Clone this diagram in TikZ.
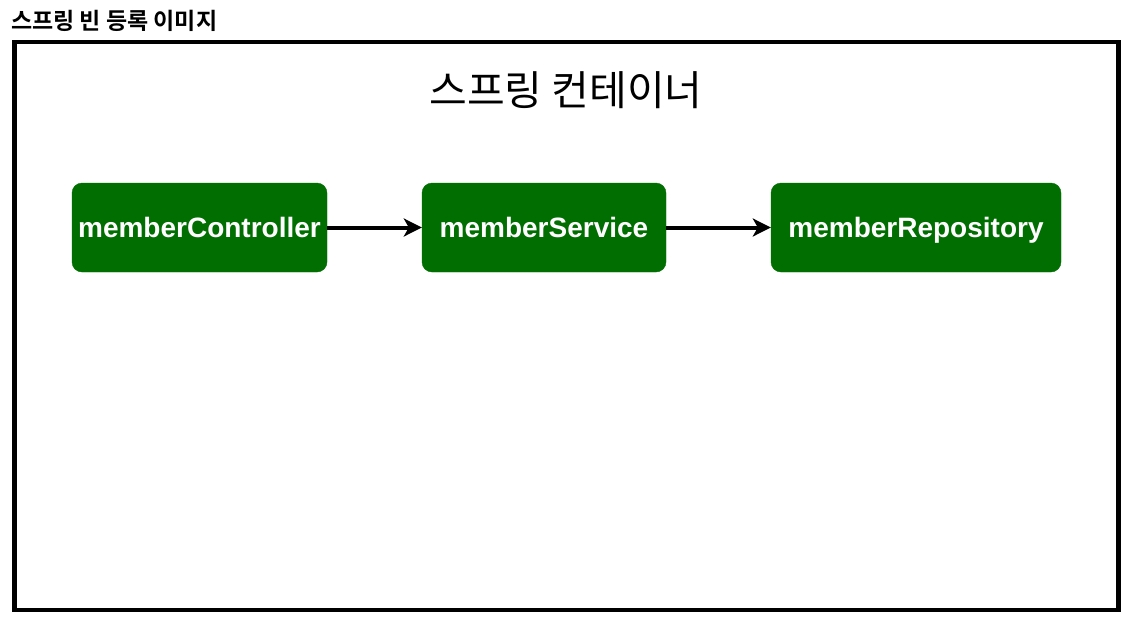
\documentclass[tikz,border=0pt]{standalone}
\usepackage{fontspec}
\setmainfont{Liberation Sans}
\newfontfamily\krfont[BoldFont={Noto Sans CJK KR Bold}]{Noto Sans CJK KR}
\usepackage{tikz}
\usetikzlibrary{arrows.meta,positioning}
\definecolor{beangreen}{RGB}{0,110,0}
\tikzset{
  beanbox/.style={rectangle,rounded corners=10pt,draw=beangreen,fill=beangreen,
    minimum height=89pt,align=center,text=white,text height=23pt,text depth=3pt,
    font=\fontsize{28}{32}\selectfont\bfseries,inner sep=0pt},
  framebox/.style={rectangle,draw=black,line width=4.5pt,
    minimum width=1104pt,minimum height=568pt,inner sep=0pt},
  arrow/.style={-{Stealth[length=18pt,width=18pt,inset=5pt]},line width=4pt,draw=black},
}

\begin{document}
\begin{tikzpicture}[x=1pt,y=-1pt]
  \useasboundingbox (0,0) rectangle (1142,632);
  \node[anchor=west,inner sep=0pt,font=\krfont\bfseries\fontsize{23}{27}\selectfont] (title) at (11,21) {스프링 빈 등록 이미지};
  \node[framebox] (container) at (566.5,326) {};
  \node[font=\krfont\fontsize{41}{48}\selectfont,inner sep=0pt] (containerlabel) at (566,90) {스프링 컨테이너};
  \node[beanbox, minimum width=255pt] (controller) at (199.5,227.5) {memberController};
  \node[beanbox, minimum width=244pt] (service) at (544,227.5) {memberService};
  \node[beanbox, minimum width=290pt] (repository) at (916,227.5) {memberRepository};
  \draw[arrow] (controller) -- (service);
  \draw[arrow] (service) -- (repository);
\end{tikzpicture}
\end{document}
